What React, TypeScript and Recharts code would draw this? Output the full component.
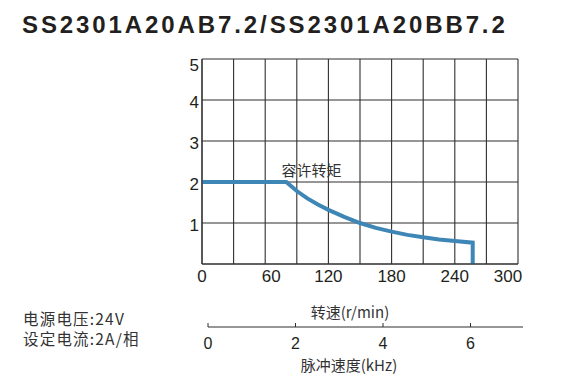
import React from 'react';
import { LineChart, Line, XAxis, YAxis, CartesianGrid } from 'recharts';

// 文字
const titleText = 'SS2301A20AB7.2/SS2301A20BB7.2';
const supplyNotes = ['电源电压:24V', '设定电流:2A/相'];
const curveName = '容许转矩';
const rpmAxisName = '转速(r/min)';
const pulseAxisName = '脉冲速度(kHz)';

// 容许转矩曲线 (r/min, N·m)
const speedRpm = [0, 80, 90, 100, 110, 120, 135, 150, 165, 180, 195, 210, 225, 240, 257, 257];
const torqueNm = [2, 2, 1.78, 1.6, 1.45, 1.32, 1.15, 1.0, 0.88, 0.79, 0.71, 0.65, 0.6, 0.56, 0.52, 0];

// 刻度
const rpmTicks = [0, 30, 60, 90, 120, 150, 180, 210, 240, 270, 300];
const rpmLabels = [0, 60, 120, 180, 240, 300];
const torqueTicks = [0, 1, 2, 3, 4, 5];
const torqueLabels = [1, 2, 3, 4, 5];
const pulseTicks = [0, 2, 4, 6];
const pulseMax = 7.2;

const curveData = speedRpm.map((rpm, i) => ({ rpm, torque: torqueNm[i] }));
const pulseData = pulseTicks.map((khz) => ({ khz }));

const INK = '#231f20';
const GRID = '#2e2e2e';
const BLUE = '#3d86b6';
const NUM_FONT = '"Liberation Sans", Arial, sans-serif';
const CJK_FONT = '"Noto Sans CJK SC", "Noto Sans", sans-serif';

const RpmTick = (props: any) => {
    const { x, y, payload } = props;
    const v = payload.value;
    if (!rpmLabels.includes(v)) return <g />;
    const nudge = v === 60 ? 6 : v === 300 ? -10 : 0;
    return (
        <text x={x + nudge} y={y + 18} textAnchor="middle" fontSize={17} fill={INK} fontFamily={NUM_FONT}>
            {v}
        </text>
    );
};

const TorqueTick = (props: any) => {
    const { x, y, payload } = props;
    const v = payload.value;
    if (!torqueLabels.includes(v)) return <g />;
    const dy = v === 5 ? 12 : 7.5;
    return (
        <text x={x} y={y + dy} textAnchor="end" fontSize={17} fill={INK} fontFamily={NUM_FONT}>
            {v}
        </text>
    );
};

const PulseTick = (props: any) => {
    const { x, y, payload } = props;
    return (
        <g>
            <line x1={x} x2={x} y1={y - 4} y2={y} stroke={GRID} strokeWidth={1} />
            <text x={x} y={y + 22} textAnchor="middle" fontSize={16} fill={INK} fontFamily={NUM_FONT}>
                {payload.value}
            </text>
        </g>
    );
};

export default function App() {
    return (
        <div style={{ position: 'absolute', left: 0, top: 0, width: 561, height: 382, background: '#fff', overflow: 'hidden' }}>
            <div style={{ position: 'absolute', left: 0, top: 0 }}>
                <LineChart width={561} height={300} data={curveData} margin={{ top: 59, right: 43, left: 182, bottom: 6 }}>
                    <CartesianGrid stroke={GRID} strokeWidth={1.1} />
                    <XAxis
                        dataKey="rpm"
                        type="number"
                        domain={[0, 300]}
                        ticks={rpmTicks}
                        interval={0}
                        height={30}
                        tickSize={0}
                        tickMargin={0}
                        tickLine={false}
                        axisLine={{ stroke: GRID, strokeWidth: 1.1 }}
                        tick={RpmTick}
                    />
                    <YAxis
                        type="number"
                        domain={[0, 5]}
                        ticks={torqueTicks}
                        interval={0}
                        width={20}
                        tickSize={0}
                        tickMargin={3}
                        tickLine={false}
                        axisLine={{ stroke: GRID, strokeWidth: 1.1 }}
                        tick={TorqueTick}
                    />
                    <Line
                        type="linear"
                        dataKey="torque"
                        stroke={BLUE}
                        strokeWidth={4}
                        dot={false}
                        isAnimationActive={false}
                    />
                </LineChart>
            </div>

            <div style={{ position: 'absolute', left: 0, top: 290 }}>
                <LineChart width={561} height={84} data={pulseData} margin={{ top: 0, right: 38, left: 208, bottom: 24 }}>
                    <XAxis
                        dataKey="khz"
                        type="number"
                        domain={[0, pulseMax]}
                        allowDataOverflow
                        ticks={pulseTicks}
                        interval={0}
                        height={23}
                        tickSize={0}
                        tickMargin={0}
                        tickLine={false}
                        axisLine={{ stroke: GRID, strokeWidth: 1 }}
                        tick={PulseTick}
                    />
                </LineChart>
            </div>

            <svg width={561} height={382} style={{ position: 'absolute', left: 0, top: 0, pointerEvents: 'none' }}>
                <text x={22} y={33} fontSize={24} fontWeight="bold" letterSpacing={2.9} fill={INK} fontFamily={NUM_FONT}>
                    {titleText}
                </text>
                <text x={311.5} y={176} textAnchor="middle" fontSize={15} fill="#333" fontFamily={CJK_FONT}>
                    {curveName}
                </text>
                <text x={350} y={318} textAnchor="middle" fontSize={15} fill="#333" fontFamily={CJK_FONT}>
                    {rpmAxisName}
                </text>
                <text x={349} y={371} textAnchor="middle" fontSize={15} fill="#333" fontFamily={CJK_FONT}>
                    {pulseAxisName}
                </text>
                {supplyNotes.map((note, i) => (
                    <text key={note} x={23} y={325 + i * 20} fontSize={15.5} letterSpacing={1.2} fill="#333" fontFamily={CJK_FONT}>
                        {note}
                    </text>
                ))}
            </svg>
        </div>
    );
}
